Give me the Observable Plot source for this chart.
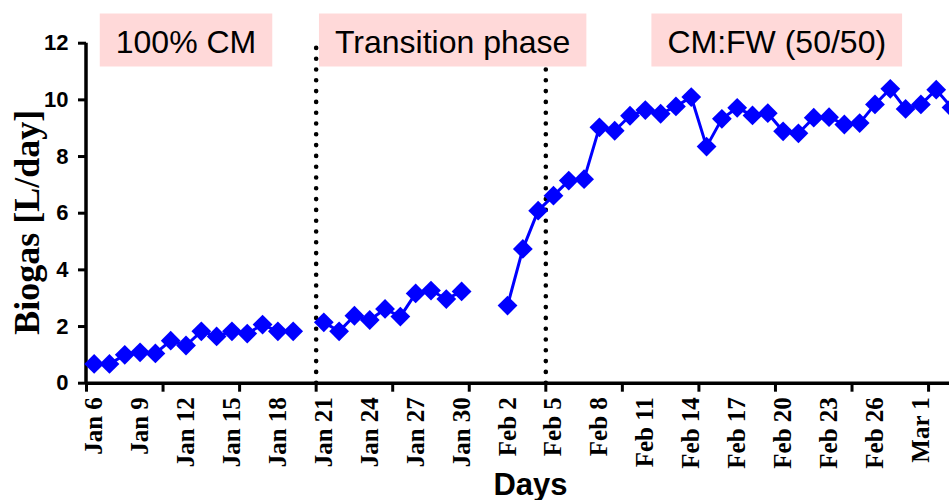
<!DOCTYPE html>
<html>
<head>
<meta charset="utf-8">
<script src="https://cdn.jsdelivr.net/npm/d3@7"></script>
<script src="https://cdn.jsdelivr.net/npm/@observablehq/plot@0.6"></script>
<style>
  html, body { margin: 0; padding: 0; background: #fff; overflow: hidden; }
  #chart svg { overflow: hidden; }
</style>
</head>
<body>
<div id="chart"></div>
<script>
// ---- data ----
const dates = [
  "2014-01-06","2014-01-07","2014-01-08","2014-01-09","2014-01-10","2014-01-11","2014-01-12",
  "2014-01-13","2014-01-14","2014-01-15","2014-01-16","2014-01-17","2014-01-18","2014-01-19",
  "2014-01-20","2014-01-21","2014-01-22","2014-01-23","2014-01-24","2014-01-25","2014-01-26",
  "2014-01-27","2014-01-28","2014-01-29","2014-01-30","2014-01-31","2014-02-01","2014-02-02",
  "2014-02-03","2014-02-04","2014-02-05","2014-02-06","2014-02-07","2014-02-08","2014-02-09",
  "2014-02-10","2014-02-11","2014-02-12","2014-02-13","2014-02-14","2014-02-15","2014-02-16",
  "2014-02-17","2014-02-18","2014-02-19","2014-02-20","2014-02-21","2014-02-22","2014-02-23",
  "2014-02-24","2014-02-25","2014-02-26","2014-02-27","2014-02-28","2014-03-01","2014-03-02",
  "2014-03-03"
];
const biogas = [
  0.68, 0.68, 1.00, 1.09, 1.05, 1.50, 1.33,
  1.83, 1.65, 1.83, 1.75, 2.07, 1.83, 1.83,
  null, 2.15, 1.83, 2.38, 2.23, 2.62, 2.35,
  3.17, 3.27, 2.97, 3.24, null, null, 2.74,
  4.74, 6.09, 6.62, 7.15, 7.20, 9.03, 8.91,
  9.44, 9.64, 9.51, 9.77, 10.10, 8.35, 9.33,
  9.72, 9.45, 9.53, 8.89, 8.82, 9.37, 9.39,
  9.13, 9.18, 9.84, 10.39, 9.68, 9.84, 10.36,
  9.73
];
const xTickLabels = ["Jan 6","Jan 9","Jan 12","Jan 15","Jan 18","Jan 21","Jan 24","Jan 27","Jan 30",
  "Feb 2","Feb 5","Feb 8","Feb 11","Feb 14","Feb 17","Feb 20","Feb 23","Feb 26","Mar 1"];
const xTickMarks = ["2014-01-05T12:00Z","2014-01-10T12:00Z","2014-01-15T12:00Z","2014-01-20T12:00Z",
  "2014-01-25T12:00Z","2014-01-30T12:00Z","2014-02-04T12:00Z","2014-02-09T12:00Z",
  "2014-02-14T12:00Z","2014-02-19T12:00Z","2014-02-24T12:00Z","2014-03-01T12:00Z"];
const yTicks = [0, 2, 4, 6, 8, 10, 12];
const phaseBoundaries = ["2014-01-20T12:00Z", "2014-02-04T12:00Z"];
const phaseNames = ["100% CM", "Transition phase", "CM:FW (50/50)"];
const phaseLabelCenters = ["2014-01-12T00:00Z", "2014-01-29T10:00Z", "2014-02-19T14:00Z"];
const xDomain = ["2014-01-05T12:00Z", "2014-03-04T12:00Z"];
const yDomain = [0, 12];

// ---- build ----
const parseLabel = d3.utcParse("%b %d %Y");
const rows = dates.map((d, i) => ({date: new Date(d + "T00:00Z"), value: biogas[i]}));
const labelDates = xTickLabels.map(l => ({label: l, date: parseLabel(l + " 2014")}));
const phases = phaseNames.map((n, i) => ({name: n, center: new Date(phaseLabelCenters[i])}));

const diamond = {
  draw(ctx, size) {
    const h = Math.sqrt(size / Math.PI) * 1.1;
    ctx.moveTo(0, -h); ctx.lineTo(h, 0); ctx.lineTo(0, h); ctx.lineTo(-h, 0); ctx.closePath();
  }
};

const SANS = "Liberation Sans, Arial, Helvetica, sans-serif";
const SERIF = "Liberation Serif, Times New Roman, serif";

const svg = Plot.plot({
  width: 949,
  height: 500,
  marginLeft: 86,
  marginRight: -25,
  marginTop: 42.7,
  marginBottom: 117.3,
  style: {background: "white", overflow: "hidden"},
  x: {type: "utc", domain: xDomain.map(d => new Date(d))},
  y: {domain: yDomain},
  marks: [
    // phase boundaries
    Plot.ruleX(phaseBoundaries.map(d => new Date(d)), {
      y1: 0, y2: 12, stroke: "black", strokeWidth: 4.6,
      strokeDasharray: "0 10.8", strokeLinecap: "round"
    }),
    // axis lines
    Plot.ruleY([0], {stroke: "black", strokeWidth: 3.5}),
    Plot.ruleX([new Date(xDomain[0])], {y1: 0, y2: 12, stroke: "black", strokeWidth: 3.5, dx: -0.5}),
    Plot.axisY({
      ticks: yTicks, tickSize: 8, tickPadding: 10, strokeWidth: 3,
      fontSize: 22, fontWeight: "bold", fontFamily: SANS, label: null, fill: "black"
    }),
    Plot.axisX({
      ticks: xTickMarks.map(d => new Date(d)), tickSize: 9, strokeWidth: 3,
      tickFormat: () => "", label: null
    }),
    Plot.text(labelDates, {
      x: "date", y: 0, text: "label", rotate: -90, dy: 14,
      textAnchor: "end", lineAnchor: "middle",
      fontSize: 25, fontWeight: "bold", fontFamily: SERIF, fill: "black"
    }),
    // series
    Plot.line(rows, {x: "date", y: "value", stroke: "#0000ff", strokeWidth: 3}),
    Plot.dot(rows, {x: "date", y: "value", symbol: diamond, r: 9, fill: "#0000ff", stroke: "none"}),
    // axis titles
    Plot.text(["Biogas [L/day]"], {
      frameAnchor: "left", dx: -48, dy: 9, rotate: -90, lineAnchor: "bottom", textAnchor: "middle",
      fontSize: 36, fontWeight: "bold", fontFamily: SERIF, fill: "black"
    }),
    Plot.text(["Days"], {
      frameAnchor: "bottom", dy: 112, lineAnchor: "bottom",
      fontSize: 31, fontWeight: "bold", fontFamily: SANS, fill: "black"
    }),
    // phase labels
    Plot.text(phases, {
      x: "center", text: "name", frameAnchor: "top", dy: 9.3,
      lineAnchor: "bottom", fontSize: 32, fontFamily: SANS, fill: "black"
    })
  ]
});
document.getElementById("chart").append(svg);

// pink boxes behind phase labels
try {
  const SVGNS = "http://www.w3.org/2000/svg";
  svg.querySelectorAll("text").forEach(t => {
    if (!phaseNames.includes(t.textContent.trim())) return;
    const b = t.getBBox();
    const r = document.createElementNS(SVGNS, "rect");
    r.setAttribute("x", b.x - 16);
    r.setAttribute("y", b.y - 10);
    r.setAttribute("width", b.width + 32);
    r.setAttribute("height", b.height + 17);
    r.setAttribute("fill", "#ffd9d9");
    r.setAttribute("stroke", "none");
    const tr = t.getAttribute("transform");
    if (tr) r.setAttribute("transform", tr);
    t.parentNode.insertBefore(r, t);
  });
} catch (e) { console.error(e); }
</script>
</body>
</html>
